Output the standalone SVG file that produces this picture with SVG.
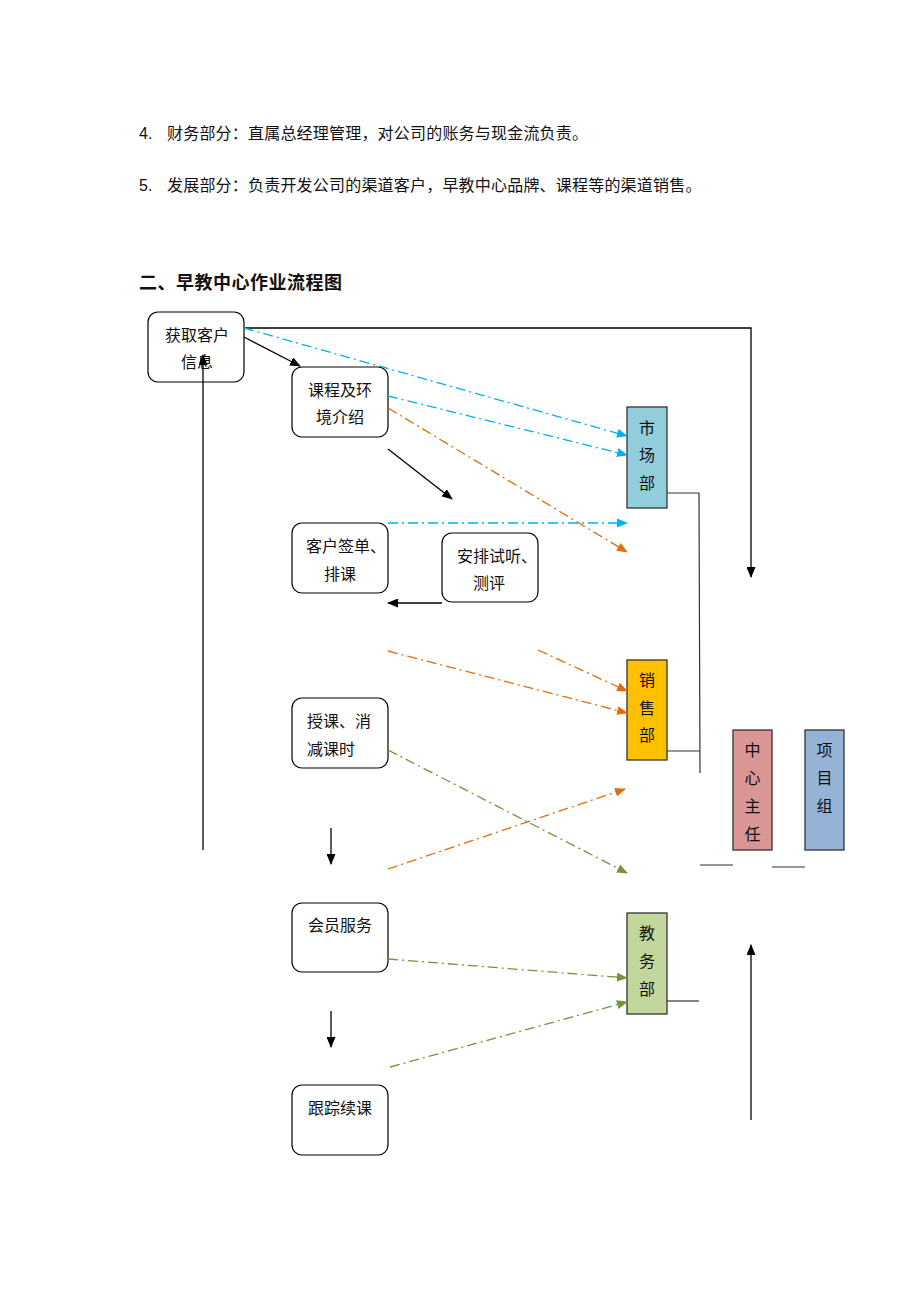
<svg xmlns="http://www.w3.org/2000/svg" width="920" height="1302" viewBox="0 0 920 1302">
<style>
text{font-family:"Liberation Sans","Noto Sans CJK SC",sans-serif;fill:#111;}
.p{font-size:16px;letter-spacing:0.2px;}
.t{font-size:18px;font-weight:bold;letter-spacing:0.5px;}
.n{font-size:16px;}
.c{text-anchor:middle;}
.box{fill:#fff;stroke:#000;stroke-width:1.2;}
.dep{stroke:#333;stroke-width:1.3;}
.k{fill:none;stroke:#000;stroke-width:1.3;}
.g{fill:none;stroke:#333;stroke-width:1.2;}
.db{fill:none;stroke:#00B0F0;stroke-width:1.3;stroke-dasharray:10 4 2 4;}
.do{fill:none;stroke:#E46C0A;stroke-width:1.3;stroke-dasharray:10 4 2 4;}
.dg{fill:none;stroke:#77933C;stroke-width:1.3;stroke-dasharray:10 4 2 4;}
</style>
<defs>
<marker id="ak" markerUnits="userSpaceOnUse" markerWidth="11" markerHeight="9" refX="10" refY="4.5" orient="auto"><path d="M0,0 L11,4.5 L0,9 z" fill="#000"/></marker>
<marker id="ab" markerUnits="userSpaceOnUse" markerWidth="11" markerHeight="9" refX="10" refY="4.5" orient="auto"><path d="M0,0 L11,4.5 L0,9 z" fill="#00B0F0"/></marker>
<marker id="ao" markerUnits="userSpaceOnUse" markerWidth="11" markerHeight="9" refX="10" refY="4.5" orient="auto"><path d="M0,0 L11,4.5 L0,9 z" fill="#E46C0A"/></marker>
<marker id="ag" markerUnits="userSpaceOnUse" markerWidth="11" markerHeight="9" refX="10" refY="4.5" orient="auto"><path d="M0,0 L11,4.5 L0,9 z" fill="#77933C"/></marker>
</defs>
<rect width="920" height="1302" fill="#fff"/>

<g id="header">
<text class="p" x="139" y="139">4.</text>
<text class="p" x="167" y="139">财务部分：直属总经理管理，对公司的账务与现金流负责。</text>
<text class="p" x="139" y="191">5.</text>
<text class="p" x="167" y="191">发展部分：负责开发公司的渠道客户，早教中心品牌、课程等的渠道销售。</text>
<text class="t" x="139" y="289">二、早教中心作业流程图</text>
</g>

<g id="n-huoqu">
<rect class="box" x="148" y="312" width="96" height="70" rx="10"/>
<text class="n" x="165" y="341">获取客户</text>
<text class="n" x="181" y="368">信息</text>
</g>
<g id="n-kecheng">
<rect class="box" x="292" y="367" width="96" height="70" rx="10"/>
<text class="n" x="308" y="396">课程及环</text>
<text class="n" x="316" y="423">境介绍</text>
</g>
<g id="n-qiandan">
<rect class="box" x="292" y="523" width="96" height="70" rx="10"/>
<text class="n" x="306" y="552">客户签单、</text>
<text class="n" x="324" y="580">排课</text>
</g>
<g id="n-shiting">
<rect class="box" x="442" y="533" width="96" height="69" rx="10"/>
<text class="n" x="457" y="562">安排试听、</text>
<text class="n" x="473" y="589">测评</text>
</g>
<g id="n-shouke">
<rect class="box" x="292" y="698" width="96" height="70" rx="10"/>
<text class="n" x="307" y="727">授课、消</text>
<text class="n" x="307" y="755">减课时</text>
</g>
<g id="n-huiyuan">
<rect class="box" x="292" y="903" width="96" height="69" rx="10"/>
<text class="n" x="308" y="931">会员服务</text>
</g>
<g id="n-genzong">
<rect class="box" x="292" y="1085" width="96" height="70" rx="10"/>
<text class="n" x="308" y="1114">跟踪续课</text>
</g>

<g id="d-shichang">
<rect class="dep" x="627" y="407" width="40" height="101" fill="#92CDDC"/>
<text class="n c" x="647" y="434">市</text>
<text class="n c" x="647" y="461">场</text>
<text class="n c" x="647" y="489">部</text>
</g>
<g id="d-xiaoshou">
<rect class="dep" x="627" y="660" width="40" height="100" fill="#FFC000"/>
<text class="n c" x="647" y="686">销</text>
<text class="n c" x="647" y="714">售</text>
<text class="n c" x="647" y="741">部</text>
</g>
<g id="d-jiaowu">
<rect class="dep" x="627" y="913" width="40" height="101" fill="#C3D69B"/>
<text class="n c" x="647" y="939">教</text>
<text class="n c" x="647" y="967">务</text>
<text class="n c" x="647" y="995">部</text>
</g>
<g id="d-zhuren">
<rect class="dep" x="733" y="730" width="39" height="120" fill="#DA9694"/>
<text class="n c" x="752.500" y="756">中</text>
<text class="n c" x="752.500" y="784">心</text>
<text class="n c" x="752.500" y="812">主</text>
<text class="n c" x="752.500" y="840">任</text>
</g>
<g id="d-xiangmu">
<rect class="dep" x="805" y="730" width="39" height="120" fill="#95B3D7"/>
<text class="n c" x="824.500" y="756">项</text>
<text class="n c" x="824.500" y="784">目</text>
<text class="n c" x="824.500" y="812">组</text>
</g>

<g id="connectors">
<polyline class="k" points="244,328 751,328 751,577" marker-end="url(#ak)"/>
<line class="k" x1="244" y1="337" x2="300" y2="366" marker-end="url(#ak)"/>
<line class="k" x1="388" y1="449" x2="452" y2="499" marker-end="url(#ak)"/>
<line class="k" x1="442" y1="603" x2="388" y2="603" marker-end="url(#ak)"/>
<line class="k" x1="331" y1="828" x2="331" y2="864" marker-end="url(#ak)"/>
<line class="k" x1="331" y1="1011" x2="331" y2="1047" marker-end="url(#ak)"/>
<line class="k" x1="203" y1="850" x2="203" y2="355" marker-end="url(#ak)"/>
<line class="k" x1="751" y1="1120" x2="751" y2="945" marker-end="url(#ak)"/>
<polyline class="g" points="667,493 699,493 700,773"/>
<line class="g" x1="667" y1="751" x2="700" y2="751"/>
<line class="g" x1="667" y1="1001" x2="699" y2="1001"/>
<line class="g" x1="700" y1="865" x2="733" y2="865"/>
<line class="g" x1="772" y1="867" x2="805" y2="867"/>
<line class="db" x1="244" y1="328" x2="627" y2="436" marker-end="url(#ab)"/>
<line class="db" x1="388" y1="396" x2="627" y2="455" marker-end="url(#ab)"/>
<line class="db" x1="388" y1="523" x2="627" y2="523" marker-end="url(#ab)"/>
<line class="do" x1="388" y1="408" x2="627" y2="552" marker-end="url(#ao)"/>
<line class="do" x1="538" y1="650" x2="627" y2="691" marker-end="url(#ao)"/>
<line class="do" x1="388" y1="651" x2="627" y2="713" marker-end="url(#ao)"/>
<line class="do" x1="388" y1="869" x2="625" y2="789" marker-end="url(#ao)"/>
<line class="dg" x1="388" y1="750" x2="627" y2="873" marker-end="url(#ag)"/>
<line class="dg" x1="388" y1="959" x2="627" y2="978" marker-end="url(#ag)"/>
<line class="dg" x1="390" y1="1067" x2="627" y2="1002" marker-end="url(#ag)"/>
</g>
</svg>
